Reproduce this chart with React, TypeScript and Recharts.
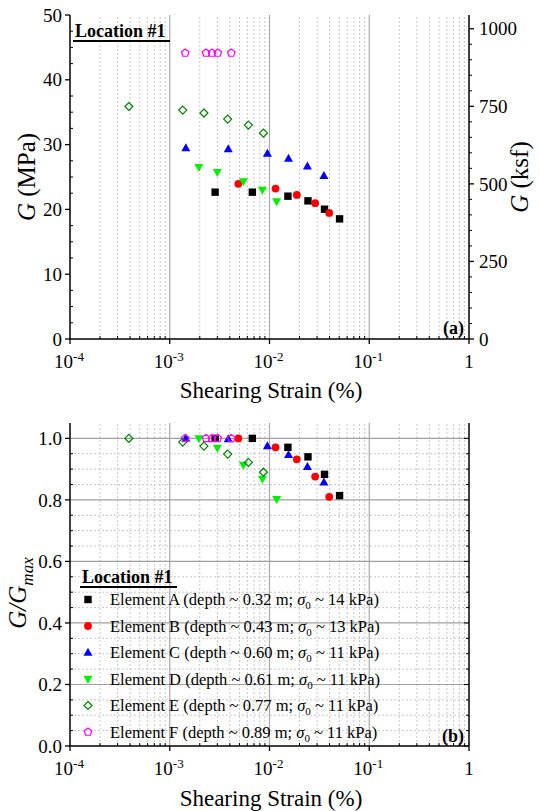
import React from 'react';
import { ScatterChart, Scatter, XAxis, YAxis, ReferenceLine, Legend } from 'recharts';

const FONT = '"Liberation Serif", "Times New Roman", Times, serif';

// ---------- data (shearing strain in %) ----------
const strainA = [0.00285, 0.00673, 0.0153, 0.0243, 0.0356, 0.0504];
const strainB = [0.00487, 0.0115, 0.0188, 0.0287, 0.0397];
const strainC = [0.00145, 0.00386, 0.00953, 0.0155, 0.024, 0.0351];
const strainD = [0.00196, 0.003, 0.00547, 0.00849, 0.0118];
const strainE = [0.000389, 0.00135, 0.0022, 0.00381, 0.00614, 0.00869];
const strainF = [0.00143, 0.00231, 0.00265, 0.00303, 0.00414];

// shear modulus G (MPa)
const gA = [22.66, 22.66, 22.04, 21.32, 20.03, 18.54];
const gB = [23.94, 23.22, 22.24, 20.96, 19.46];
const gC = [29.46, 29.3, 28.62, 27.85, 26.67, 25.18];
const gD = [26.52, 25.75, 24.3, 23.01, 21.21];
const gE = [35.88, 35.33, 34.87, 33.94, 33.01, 31.77];
const gF = [44.13, 44.13, 44.13, 44.13, 44.13];

// normalized G/Gmax
const rA = [1.0, 1.0, 0.971, 0.94, 0.883, 0.814];
const rB = [1.0, 0.971, 0.932, 0.876, 0.81];
const rC = [1.0, 0.998, 0.975, 0.947, 0.908, 0.857];
const rD = [1.0, 0.969, 0.914, 0.868, 0.802];
const rE = [1.0, 0.988, 0.975, 0.949, 0.922, 0.89];
const rF = [1.0, 1.0, 1.0, 1.0, 1.0];

const elementNames = ['A', 'B', 'C', 'D', 'E', 'F'];
const depths = ['0.32', '0.43', '0.60', '0.61', '0.77', '0.89'];
const stresses = ['14', '13', '11', '11', '11', '11'];

const xDecades = [1e-4, 1e-3, 1e-2, 1e-1, 1];
const gTicksMajor = [0, 10, 20, 30, 40, 50];
const ksfTicksMajor = [0, 250, 500, 750, 1000];
const ratioTicksMajor = [0, 0.2, 0.4, 0.6, 0.8, 1.0];

const MPA_TO_KSF = 20.8854;

// ---------- helpers ----------
const xMinor: number[] = [];
for (let d = -4; d <= -1; d++) for (let m = 2; m <= 9; m++) xMinor.push(m * Math.pow(10, d));
const xAll = [...xDecades, ...xMinor].sort((a, b) => a - b);
const gAll: number[] = [];
for (let k = 0; k <= 20; k++) gAll.push(k * 2.5);
const ksfAll: number[] = [];
for (let k = 0; k <= 20; k++) ksfAll.push(k * 50);
const rAll: number[] = [];
for (let k = 0; k <= 20; k++) rAll.push(Math.round(k * 5) / 100);
const rMinorGrid = rAll.filter((v) => v > 0 && Math.abs(v * 5 - Math.round(v * 5)) > 1e-6);
const rMajorGrid = ratioTicksMajor.filter((v) => v > 0);

const isDecade = (v: number) => Math.abs(Math.log10(v) - Math.round(Math.log10(v))) < 1e-6;
const zip = (xs: number[], ys: number[]) => xs.map((x, i) => ({ x, y: ys[i] }));

// ---------- marker shapes ----------
const Sq = (p: any) => <rect x={p.cx - 3.7} y={p.cy - 3.7} width={7.4} height={7.4} fill="#000000" />;
const Ci = (p: any) => <circle cx={p.cx} cy={p.cy} r={3.9} fill="#ff0000" />;
const TUp = (p: any) => (
  <path d={`M${p.cx},${p.cy - 4.8} L${p.cx + 4.5},${p.cy + 3.2} L${p.cx - 4.5},${p.cy + 3.2} Z`} fill="#0000ff" />
);
const TDn = (p: any) => (
  <path d={`M${p.cx},${p.cy + 4.8} L${p.cx + 4.5},${p.cy - 3.2} L${p.cx - 4.5},${p.cy - 3.2} Z`} fill="#00ee00" />
);
const Dia = (p: any) => (
  <path d={`M${p.cx},${p.cy - 4} L${p.cx + 4},${p.cy} L${p.cx},${p.cy + 4} L${p.cx - 4},${p.cy} Z`} fill="none" stroke="#008000" strokeWidth={1.2} />
);
const Pen = (p: any) => {
  const pts: string[] = [];
  for (let i = 0; i < 5; i++) {
    const a = -Math.PI / 2 + (i * 2 * Math.PI) / 5;
    pts.push(`${p.cx + 4 * Math.cos(a)},${p.cy + 4 * Math.sin(a)}`);
  }
  return <polygon points={pts.join(' ')} fill="none" stroke="#ff00ff" strokeWidth={1.2} />;
};
const shapes = [Sq, Ci, TUp, TDn, Dia, Pen];

// ---------- tick renderers ----------
const XTickBottom = (props: any) => {
  const { x, y, payload } = props;
  const v = payload.value;
  if (!isDecade(v)) return <line x1={x} x2={x} y1={y} y2={y - 3} stroke="#000" strokeWidth={1} />;
  const exp = Math.round(Math.log10(v));
  return (
    <g>
      <line x1={x} x2={x} y1={y} y2={y + 5} stroke="#000" strokeWidth={1.3} />
      <text x={exp === 0 ? x : x - 1} y={y + 29} textAnchor="middle" fontFamily={FONT} fontSize={19} fill="#000">
        {exp === 0 ? '1' : (
          <>
            10<tspan dy={-7} fontSize={13}>{String(exp)}</tspan>
          </>
        )}
      </text>
    </g>
  );
};

const XTickTop = (props: any) => {
  const { x, y, payload } = props;
  const len = isDecade(payload.value) ? 5 : 3;
  return <line x1={x} x2={x} y1={y} y2={y + len} stroke="#000" strokeWidth={1} />;
};

const makeLeftTick = (majors: number[], fmt: (v: number) => string) => (props: any) => {
  const { x, y, payload } = props;
  const v = payload.value;
  const major = majors.some((m) => Math.abs(m - v) < 1e-6);
  if (!major) return <line x1={x} x2={x + 3} y1={y} y2={y} stroke="#000" strokeWidth={1} />;
  return (
    <g>
      <line x1={x - 5} x2={x} y1={y} y2={y} stroke="#000" strokeWidth={1.3} />
      <text x={x - 8} y={y} dy="0.35em" textAnchor="end" fontFamily={FONT} fontSize={19} fill="#000">
        {fmt(v)}
      </text>
    </g>
  );
};

const RightTickKsf = (props: any) => {
  const { x, y, payload } = props;
  const v = payload.value;
  const major = ksfTicksMajor.includes(v);
  if (!major) return <line x1={x} x2={x + 3} y1={y} y2={y} stroke="#000" strokeWidth={1} />;
  return (
    <g>
      <line x1={x} x2={x + 5} y1={y} y2={y} stroke="#000" strokeWidth={1.3} />
      <text x={x + 10} y={y} dy="0.35em" textAnchor="start" fontFamily={FONT} fontSize={19} fill="#000">
        {String(v)}
      </text>
    </g>
  );
};

const RightTickInward = (props: any) => {
  const { x, y, payload } = props;
  const v = payload.value;
  const major = ratioTicksMajor.some((m) => Math.abs(m - v) < 1e-6);
  return <line x1={x} x2={x - (major ? 5 : 3)} y1={y} y2={y} stroke="#000" strokeWidth={1} />;
};

const AX = { stroke: '#000', strokeWidth: 1.5 };

const gridLines = () => [
  ...xMinor.map((v) => (
    <ReferenceLine key={'xm' + v} x={v} stroke="#c8c8c8" strokeDasharray="2 2" strokeWidth={1} />
  )),
  ...xDecades
    .filter((v) => v > 1e-4 && v < 1)
    .map((v) => <ReferenceLine key={'xd' + v} x={v} stroke="#a8a8a8" strokeWidth={1.2} />),
];

// ---------- overlays ----------
const TopOverlay = () => (
  <svg width={540} height={405} style={{ position: 'absolute', left: 0, top: 0, pointerEvents: 'none' }}>
    <text x={75} y={37} fontFamily={FONT} fontSize={18} fontWeight="bold" fill="#000">Location #1</text>
    <line x1={73} x2={170} y1={41} y2={41} stroke="#000" strokeWidth={2} />
    <text x={464} y={334} textAnchor="end" fontFamily={FONT} fontSize={18} fontWeight="bold" fill="#000">(a)</text>
    <text transform="translate(35,177) rotate(-90)" textAnchor="middle" fontFamily={FONT} fontSize={25} fill="#000">
      <tspan fontStyle="italic">G</tspan> (MPa)
    </text>
    <text transform="translate(528,177) rotate(-90)" textAnchor="middle" fontFamily={FONT} fontSize={25} fill="#000">
      <tspan fontStyle="italic">G</tspan> (ksf)
    </text>
    <text x={271} y={398} textAnchor="middle" fontFamily={FONT} fontSize={23} fill="#000">Shearing Strain (%)</text>
  </svg>
);

const BottomOverlay = () => (
  <svg width={540} height={406} style={{ position: 'absolute', left: 0, top: 0, pointerEvents: 'none' }}>
    <text x={82} y={178} fontFamily={FONT} fontSize={18} fontWeight="bold" fill="#000">Location #1</text>
    <line x1={80} x2={177} y1={182} y2={182} stroke="#000" strokeWidth={2} />
    {elementNames.map((n, i) => {
      const cy = 194.5 + i * 26.5;
      const S = shapes[i];
      return (
        <g key={n}>
          <S cx={88} cy={cy} />
          <text x={110} y={cy} dy="0.35em" fontFamily={FONT} fontSize={16.5} fill="#000">
            {`Element ${n} (depth ~ ${depths[i]} m; `}
            <tspan fontStyle="italic">σ</tspan>
            <tspan dy={4} fontSize={11}>0</tspan>
            <tspan dy={-4}>{` ~ ${stresses[i]} kPa)`}</tspan>
          </text>
        </g>
      );
    })}
    <text x={464} y={337} textAnchor="end" fontFamily={FONT} fontSize={18} fontWeight="bold" fill="#000">(b)</text>
    <text transform="translate(26,188) rotate(-90)" textAnchor="middle" fontFamily={FONT} fontSize={25} fontStyle="italic" fill="#000">
      G/G<tspan dy={7} fontSize={17}>max</tspan>
    </text>
    <text x={271} y={401} textAnchor="middle" fontFamily={FONT} fontSize={23} fill="#000">Shearing Strain (%)</text>
  </svg>
);

const legendWrap = { position: 'absolute', left: 0, top: 0, width: 540, margin: 0, padding: 0 } as any;

export default function App() {
  const topSeries = [zip(strainA, gA), zip(strainB, gB), zip(strainC, gC), zip(strainD, gD), zip(strainE, gE), zip(strainF, gF)];
  const botSeries = [zip(strainA, rA), zip(strainB, rB), zip(strainC, rC), zip(strainD, rD), zip(strainE, rE), zip(strainF, rF)];
  return (
    <div style={{ position: 'absolute', left: 0, top: 0, width: 540, height: 811, background: '#fff', fontFamily: FONT }}>
      <ScatterChart width={540} height={405} margin={{ top: 15, right: 0, bottom: 0, left: 0 }}>
        <XAxis dataKey="x" type="number" scale="log" domain={[1e-4, 1]} ticks={xAll} interval={0} allowDataOverflow
          height={66} tickSize={0} tickMargin={0} tickLine={false} axisLine={AX} tick={XTickBottom} />
        <XAxis xAxisId="top" orientation="top" dataKey="x" type="number" scale="log" domain={[1e-4, 1]} ticks={xAll} interval={0}
          allowDataOverflow height={0} tickSize={0} tickMargin={0} tickLine={false} axisLine={AX} tick={XTickTop} />
        <YAxis dataKey="y" type="number" domain={[0, 50]} ticks={gAll} interval={0} allowDataOverflow width={70}
          tickSize={0} tickMargin={0} tickLine={false} axisLine={AX} tick={makeLeftTick(gTicksMajor, (v) => String(v))} />
        <YAxis yAxisId="r" orientation="right" type="number" domain={[0, 50 * MPA_TO_KSF]} ticks={ksfAll} interval={0}
          allowDataOverflow width={71} tickSize={0} tickMargin={0} tickLine={false} axisLine={AX} tick={RightTickKsf} />
        {gridLines()}
        {topSeries.map((d, i) => (
          <Scatter key={i} name={'Element ' + elementNames[i]} data={d} shape={shapes[i]} isAnimationActive={false} />
        ))}
        <Legend layout="vertical" align="center" verticalAlign="middle" wrapperStyle={legendWrap} content={() => <TopOverlay />} />
      </ScatterChart>
      <ScatterChart width={540} height={406} margin={{ top: 18, right: 0, bottom: 0, left: 0 }}>
        <XAxis dataKey="x" type="number" scale="log" domain={[1e-4, 1]} ticks={xAll} interval={0} allowDataOverflow
          height={65} tickSize={0} tickMargin={0} tickLine={false} axisLine={AX} tick={XTickBottom} />
        <XAxis xAxisId="top" orientation="top" dataKey="x" type="number" scale="log" domain={[1e-4, 1]} ticks={xAll} interval={0}
          allowDataOverflow height={0} tickSize={0} tickMargin={0} tickLine={false} axisLine={AX} tick={XTickTop} />
        <YAxis dataKey="y" type="number" domain={[0, 1.05]} ticks={rAll} interval={0} allowDataOverflow width={70}
          tickSize={0} tickMargin={0} tickLine={false} axisLine={AX} tick={makeLeftTick(ratioTicksMajor, (v) => v.toFixed(1))} />
        <YAxis yAxisId="r" orientation="right" type="number" domain={[0, 1.05]} ticks={rAll} interval={0}
          allowDataOverflow width={71} tickSize={0} tickMargin={0} tickLine={false} axisLine={AX} tick={RightTickInward} />
        {gridLines()}
        {rMinorGrid.map((v) => (
          <ReferenceLine key={'ym' + v} y={v} stroke="#c8c8c8" strokeDasharray="2 2" strokeWidth={1} />
        ))}
        {rMajorGrid.map((v) => (
          <ReferenceLine key={'yM' + v} y={v} stroke="#a0a0a0" strokeWidth={1.2} />
        ))}
        {botSeries.map((d, i) => (
          <Scatter key={i} name={'Element ' + elementNames[i]} data={d} shape={shapes[i]} isAnimationActive={false} />
        ))}
        <Legend layout="vertical" align="center" verticalAlign="middle" wrapperStyle={legendWrap} content={() => <BottomOverlay />} />
      </ScatterChart>
    </div>
  );
}
